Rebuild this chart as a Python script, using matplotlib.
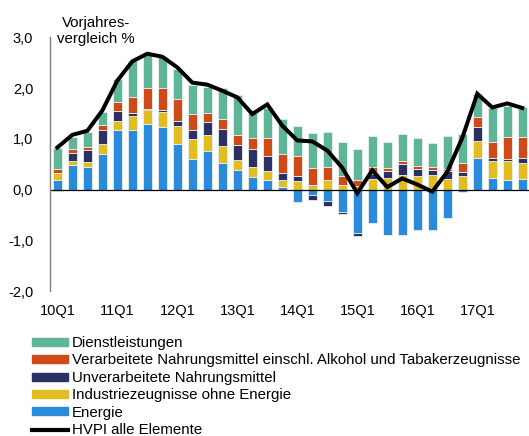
import matplotlib
matplotlib.use('Agg')
import matplotlib.pyplot as plt
import numpy as np
from matplotlib.patches import Patch
from matplotlib.lines import Line2D

plt.rcParams['font.family'] = ['Liberation Sans', 'DejaVu Sans']

# Quartale 10Q1 .. 17Q4
quartale = [f"{j}Q{q}" for j in range(10, 18) for q in range(1, 5)]

energie = [0.18, 0.49, 0.44, 0.70, 1.18, 1.17, 1.29, 1.23,
           0.89, 0.60, 0.76, 0.53, 0.38, 0.24, 0.18, 0.05,
           -0.24, -0.10, -0.23, -0.45, -0.86, -0.65, -0.89, -0.89,
           -0.80, -0.79, -0.57, -0.05, 0.63, 0.23, 0.19, 0.20]
industrie = [0.15, 0.08, 0.10, 0.19, 0.18, 0.28, 0.28, 0.30,
             0.36, 0.39, 0.32, 0.33, 0.21, 0.20, 0.18, 0.14,
             0.16, 0.10, 0.18, 0.10, 0.08, 0.21, 0.22, 0.29,
             0.26, 0.28, 0.21, 0.26, 0.33, 0.34, 0.38, 0.33]
unverarb = [-0.03, 0.15, 0.24, 0.29, 0.20, 0.06, 0.02, 0.04,
            0.10, 0.19, 0.26, 0.33, 0.29, 0.36, 0.30, 0.13,
            0.10, -0.10, -0.09, -0.04, -0.05, 0.10, 0.14, 0.21,
            0.15, 0.10, 0.15, 0.08, 0.27, 0.05, 0.03, 0.10]
verarb = [0.08, 0.08, 0.06, 0.09, 0.16, 0.32, 0.42, 0.44,
          0.44, 0.31, 0.18, 0.20, 0.19, 0.21, 0.35, 0.38,
          0.40, 0.32, 0.27, 0.17, 0.11, 0.14, 0.07, 0.06,
          0.06, 0.06, 0.05, 0.18, 0.21, 0.31, 0.43, 0.40]
dienst = [0.41, 0.23, 0.30, 0.27, 0.46, 0.71, 0.66, 0.60,
          0.59, 0.58, 0.50, 0.61, 0.80, 0.56, 0.60, 0.69,
          0.59, 0.69, 0.68, 0.66, 0.62, 0.60, 0.51, 0.53,
          0.54, 0.48, 0.64, 0.58, 0.44, 0.68, 0.61, 0.59]
hvpi = [0.83, 1.08, 1.16, 1.56, 2.15, 2.53, 2.68, 2.62,
        2.41, 2.11, 2.07, 1.95, 1.82, 1.49, 1.68, 1.26,
        0.97, 0.95, 0.77, 0.43, -0.07, 0.38, 0.05, 0.22,
        0.10, -0.04, 0.35, 1.02, 1.89, 1.62, 1.70, 1.61]

serien = [
    ("Energie", energie, "#2a8adb"),
    ("Industriezeugnisse ohne Energie", industrie, "#e3bd20"),
    ("Unverarbeitete Nahrungsmittel", unverarb, "#2c3163"),
    ("Verarbeitete Nahrungsmittel einschl. Alkohol und Tabakerzeugnisse", verarb, "#d04a17"),
    ("Dienstleistungen", dienst, "#5fb597"),
]

x = np.arange(len(quartale))

fig = plt.figure(figsize=(5.29, 4.36), dpi=100)
ax = fig.add_axes([50/529, 1-291/436, 479/529, (291-37.5)/436])

pos_bottom = np.zeros(len(x))
neg_bottom = np.zeros(len(x))
for name, vals, col in serien:
    v = np.array(vals)
    b = np.where(v >= 0, pos_bottom, neg_bottom)
    ax.bar(x, v, 0.63, bottom=b, color=col, edgecolor='#e8f0f0', linewidth=0.6)
    pos_bottom += np.where(v >= 0, v, 0)
    neg_bottom += np.where(v < 0, v, 0)

ax.plot(x, hvpi, color='black', linewidth=2.9, solid_joinstyle='miter')
ax.axhline(0, color='black', linewidth=0.9)

ax.set_xlim(-0.49, 31.45)
ax.set_ylim(-2.0, 3.0)
ax.set_yticks([-2, -1, 0, 1, 2, 3])
ax.set_yticklabels(["-2,0", "-1,0", "0,0", "1,0", "2,0", "3,0"], fontsize=10.5)
ax.set_xticks(x[::4])
ax.set_xticklabels(quartale[::4], fontsize=10.5)
ax.tick_params(axis='both', length=0)
ax.tick_params(axis='x', pad=9)
ax.tick_params(axis='y', pad=12)
for s in ['top', 'right', 'bottom']:
    ax.spines[s].set_visible(False)
ax.spines['left'].set_color('#808080')
ax.spines['left'].set_linewidth(1.0)

fig.text(96/529, 1-31/436, "Vorjahres-\nvergleich %", ha='center', va='center',
         fontsize=10.8, linespacing=1.1)

handles = [Patch(color=c) for _, _, c in serien[::-1]]
labels = [n for n, _, _ in serien[::-1]]
handles.append(Line2D([], [], color='black', linewidth=3))
labels.append("HVPI alle Elemente")
fig.legend(handles, labels, loc='upper left', bbox_to_anchor=(32/529, 1-336/436),
           frameon=False, fontsize=10.8, handlelength=2.4, handleheight=0.45,
           handletextpad=0.25, labelspacing=0.23, borderpad=0, borderaxespad=0)

fig.savefig("out.png", dpi=100)
